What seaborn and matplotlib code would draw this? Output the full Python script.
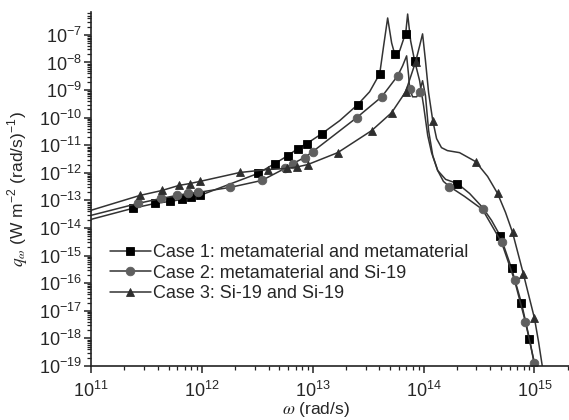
import numpy as np
import pandas as pd
import seaborn as sns
from matplotlib import pyplot as plt
from matplotlib.ticker import LogLocator, NullFormatter

# case 1: metamaterial / metamaterial
omega_1 = [1.00e11, 2.39e11, 3.78e11, 5.15e11, 6.61e11, 7.96e11, 9.60e11, 3.20e12, 4.55e12,
           5.96e12, 7.33e12, 8.83e12, 1.21e13, 1.75e13, 2.54e13, 3.26e13, 4.02e13, 4.36e13,
           4.74e13, 5.15e13, 5.48e13, 6.08e13, 6.61e13, 6.89e13, 7.18e13, 7.64e13, 8.30e13,
           9.21e13, 1.00e14, 1.09e14, 1.18e14, 1.34e14, 1.58e14, 2.02e14, 2.60e14, 3.40e14,
           4.10e14, 4.94e14, 6.21e14, 7.64e14, 9.02e14, 1.04e15]
q_1 = [2.06e-14, 5.2e-14, 7.8e-14, 9.2e-14, 1.09e-13, 1.29e-13, 1.52e-13, 9.5e-13, 2.18e-12,
       4.2e-12, 7.6e-12, 1.15e-11, 2.64e-11, 7.8e-11, 2.95e-10, 8.7e-10, 3.9e-9, 4.0e-8,
       4.1e-7, 5.1e-8, 2.06e-8, 2.64e-8, 7.2e-8, 1.09e-7, 5.7e-7, 6.1e-8, 1.15e-8,
       2.18e-9, 2.72e-10, 2.24e-11, 5.4e-12, 1.22e-12, 5.8e-13, 4.1e-13, 1.79e-13, 5.6e-14,
       1.90e-14, 5.0e-15, 3.5e-16, 1.9e-17, 9.5e-19, 4.8e-20]
marks_1 = [1, 2, 3, 4, 5, 6, 7, 8, 9, 10, 11, 12, 14, 16, 20, 23, 26, 33, 37, 38, 39, 40]

# case 2: metamaterial / Si-19
omega_2 = [1.00e11, 2.65e11, 4.28e11, 5.96e11, 7.48e11, 9.21e11, 1.79e12, 3.47e12, 5.60e12,
           6.61e12, 8.47e12, 1.00e13, 1.58e13, 2.49e13, 4.19e13, 5.84e13, 6.47e13, 7.03e13,
           7.33e13, 7.48e13, 7.96e13, 8.65e13, 9.21e13, 9.79e13, 1.04e14, 1.11e14, 1.21e14,
           1.34e14, 1.51e14, 1.71e14, 2.34e14, 3.40e14, 5.05e14, 6.61e14, 8.30e14, 1.00e15,
           1.06e15]
q_2 = [2.88e-14, 7.8e-14, 1.18e-13, 1.52e-13, 1.79e-13, 1.95e-13, 2.96e-13, 5.3e-13, 1.44e-12,
       2.18e-12, 3.6e-12, 5.9e-12, 2.43e-11, 1.0e-10, 5.7e-10, 3.3e-9, 7.6e-9, 1.74e-8,
       3.3e-9, 1.12e-9, 5.7e-10, 5.7e-10, 8.7e-10, 2.18e-9, 6.2e-10, 3.4e-11, 4.2e-12,
       1.22e-12, 4.9e-13, 3.2e-13, 1.40e-13, 4.7e-14, 3.04e-15, 1.29e-16, 3.9e-18, 1.29e-19,
       3.7e-20]
marks_2 = [1, 2, 3, 4, 5, 6, 7, 8, 9, 10, 11, 13, 14, 15, 19, 22, 29, 31, 32, 33, 34, 35]

# case 3: Si-19 / Si-19
omega_3 = [1.00e11, 2.76e11, 4.37e11, 6.21e11, 7.80e11, 9.60e11, 2.20e12, 3.94e12, 5.84e12,
           7.18e12, 9.02e12, 1.68e13, 3.40e13, 5.15e13, 6.89e13, 8.47e13, 9.21e13, 9.79e13,
           1.04e14, 1.11e14, 1.21e14, 1.31e14, 1.45e14, 1.64e14, 2.11e14, 2.94e14, 3.78e14,
           4.65e14, 5.48e14, 6.34e14, 7.96e14, 1.00e15, 1.09e15, 1.21e15]
q_3 = [4.4e-14, 1.52e-13, 2.30e-13, 3.5e-13, 4.1e-13, 4.9e-13, 1.03e-12, 1.32e-12, 1.44e-12,
       1.63e-12, 2.00e-12, 5.4e-12, 3.4e-11, 1.52e-10, 8.7e-10, 1.06e-8, 4.0e-8, 1.09e-7,
       1.15e-8, 8.0e-10, 7.8e-11, 1.74e-11, 8.2e-12, 6.4e-12, 5.4e-12, 2.57e-12, 7.4e-13,
       1.79e-13, 3.7e-14, 7.0e-15, 2.12e-16, 5.4e-18, 7.4e-19, 4.8e-20]
marks_3 = [1, 2, 3, 4, 5, 6, 7, 8, 9, 10, 11, 12, 13, 14, 15, 20, 25, 27, 29, 30, 31]

labels = ["Case 1: metamaterial and metamaterial",
          "Case 2: metamaterial and Si-19",
          "Case 3: Si-19 and Si-19"]

sns.set_theme(style="ticks")
plt.rcParams["font.family"] = ["Liberation Sans", "DejaVu Sans"]
plt.rcParams["mathtext.fontset"] = "stix"

fig = plt.figure(figsize=(5.69, 4.2), dpi=100)
ax = fig.add_axes([0.160, 0.1286, 0.840, 0.843])

styles = [("s", "#000000", 5.2), ("o", "#5f5f5f", 6.2), ("^", "#2e2e2e", 6.2)]
series = [(omega_1, q_1, marks_1), (omega_2, q_2, marks_2), (omega_3, q_3, marks_3)]
for (om, q, mk), (marker, fc, ms), lab in zip(series, styles, labels):
    df = pd.DataFrame({"omega": om, "q": q})
    sns.lineplot(data=df, x="omega", y="q", ax=ax, estimator=None, sort=False,
                 color="#333333", linewidth=1.1, marker=marker, markersize=ms,
                 markerfacecolor=fc, markeredgecolor=fc, markeredgewidth=0.6,
                 markevery=mk, label=lab)

ax.set(xscale="log", yscale="log")
ax.set_xlim(1e11, 2.05e15)
ax.set_ylim(1e-19, 6.8e-7)
ax.yaxis.set_major_locator(LogLocator(base=10, numticks=30))
ax.yaxis.set_minor_locator(LogLocator(base=10, subs=np.arange(2, 10), numticks=30))
ax.yaxis.set_minor_formatter(NullFormatter())
ax.xaxis.set_major_locator(LogLocator(base=10, numticks=30))
ax.xaxis.set_minor_locator(LogLocator(base=10, subs=np.arange(2, 10), numticks=30))
ax.xaxis.set_minor_formatter(NullFormatter())

sns.despine(ax=ax)
for s in ("left", "bottom"):
    ax.spines[s].set_linewidth(1.2)
    ax.spines[s].set_color("#222222")
ax.tick_params(which="major", direction="out", length=5, width=1.1, labelsize=13,
               color="#222222")
ax.tick_params(axis="y", which="major", pad=1.5)
ax.tick_params(axis="x", which="major", pad=5.5)
ax.tick_params(which="minor", direction="out", length=3, width=0.9, color="#222222")

ax.set_xlabel(r"$\omega$ (rad/s)", fontsize=12.5)
ax.set_ylabel(r"$q_\omega$ (W m$^{\mathdefault{-2}}$ (rad/s)$^{\mathdefault{-1}}$)", fontsize=12.5)
ax.xaxis.set_label_coords(0.47, -0.097)
ax.yaxis.set_label_coords(-0.128, 0.5)

ax.legend(loc="upper left", bbox_to_anchor=(0.04, 0.344), frameon=False, fontsize=13,
          handlelength=2.25, handletextpad=0.12, labelspacing=0.2, borderaxespad=0,
          borderpad=0)

fig.savefig("out.png", dpi=100)
